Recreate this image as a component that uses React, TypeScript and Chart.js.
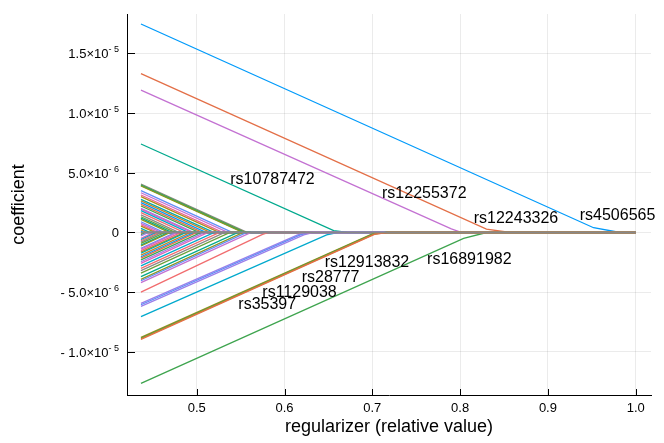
import { useEffect, useRef } from "react";
import { Chart, registerables } from "chart.js";

Chart.register(...registerables);

const FONT = "'Liberation Sans', Arial, Helvetica, sans-serif";

// x axis (regularizer, relative value)
const xStart = 0.4365;
const xEnd = 1.0;
const xMin = 0.4206;
const xMax = 1.0174;
const xTicks = [0.5, 0.6, 0.7, 0.8, 0.9, 1.0];

// y axis (coefficient)
const yMin = -13.61e-6;
const yMax = 18.3e-6;
const yTicks = [-1.0e-5, -5.0e-6, 0, 5.0e-6, 1.0e-5, 1.5e-5];

// major coefficient paths: value at xStart, bend point, point where it reaches 0
const majorStart = [17.46e-6, 13.3e-6, 11.93e-6, 7.41e-6, -12.63e-6, -7.05e-6, -5.93e-6, -6.05e-6, -6.18e-6, -5.0e-6, -8.78e-6, -8.84e-6, -8.9e-6, -8.96e-6];
const majorBendX = [0.952, 0.83, 0.79, 0.656, 0.804, 0.648, 0.615, 0.618, 0.622, 0.575, 0.7, 0.701, 0.702, 0.703];
const majorBendY = [0.4e-6, 0.29e-6, 0.3e-6, 0.15e-6, -0.49e-6, -0.2e-6, -0.2e-6, -0.2e-6, -0.2e-6, -0.15e-6, -0.12e-6, -0.12e-6, -0.13e-6, -0.13e-6];
const majorZeroX = [0.982, 0.857, 0.802, 0.672, 0.83, 0.66, 0.625, 0.628, 0.632, 0.582, 0.716, 0.716, 0.717, 0.718];
const majorColors = ["#009AFA", "#E36F47", "#C371D2", "#00A98D", "#3EA44E", "#00A9CD", "#9B7FE9", "#618DF6", "#9B7FE9", "#F16C6E", "#AC8E18", "#3EA44E", "#C68225", "#E36F47"];

// minor coefficient paths: value at xStart and point where it reaches 0
const minorStart = [
  4.06e-6, 4.0e-6, 3.95e-6, 3.9e-6, 3.5e-6, 3.33e-6, 3.14e-6, 3.0e-6, 2.78e-6, 2.65e-6,
  2.5e-6, 2.35e-6, 2.22e-6, 2.03e-6, 1.95e-6, 1.83e-6, 1.66e-6, 1.47e-6, 1.32e-6, 1.2e-6,
  1.1e-6, 0.9e-6, 0.77e-6, 0.65e-6, 0.54e-6, 0.35e-6, 0.21e-6, 0.1e-6,
  -0.07e-6, -0.18e-6, -0.29e-6, -0.49e-6, -0.6e-6, -0.69e-6, -0.8e-6, -0.91e-6, -1.05e-6, -1.13e-6,
  -1.32e-6, -1.4e-6, -1.52e-6, -1.65e-6, -1.74e-6, -1.9e-6, -2.03e-6, -2.15e-6, -2.3e-6, -2.45e-6,
  -2.58e-6, -2.8e-6, -3.0e-6, -3.2e-6, -3.4e-6, -3.7e-6, -3.92e-6, -4.04e-6, -4.2e-6,
];
const minorZeroX = [
  0.558, 0.556, 0.554, 0.553, 0.541, 0.536, 0.53, 0.526, 0.52, 0.516,
  0.511, 0.507, 0.503, 0.497, 0.495, 0.491, 0.486, 0.48, 0.476, 0.472,
  0.469, 0.463, 0.46, 0.456, 0.453, 0.447, 0.443, 0.44,
  0.439, 0.442, 0.445, 0.451, 0.454, 0.457, 0.46, 0.464, 0.468, 0.47,
  0.476, 0.478, 0.482, 0.486, 0.488, 0.493, 0.497, 0.5, 0.505, 0.509,
  0.513, 0.52, 0.526, 0.532, 0.538, 0.547, 0.553, 0.557, 0.562,
];
const palette = ["#888888", "#6D9F3A", "#00A98D", "#8E971D", "#618DF6", "#C371D2", "#ED5E93", "#AC8E18", "#00AAAE", "#C68225", "#009AFA", "#E36F47", "#3EA44E", "#9B7FE9", "#DC63BB", "#00A9CD", "#F16C6E"];
const zeroLineColor = "#888888";

// SNP annotations
const labelNames = ["rs10787472", "rs12255372", "rs12243326", "rs4506565", "rs16891982", "rs12913832", "rs28777", "rs1129038", "rs35397"];
const labelX = [0.5863, 0.7592, 0.8636, 0.9793, 0.8105, 0.6939, 0.6525, 0.6171, 0.5803];
const labelY = [4.4e-6, 3.22e-6, 1.13e-6, 1.41e-6, -2.24e-6, -2.53e-6, -3.81e-6, -5.04e-6, -6.07e-6];

const axesPlugin = {
  id: "gr-axes",
  afterDraw(chart: any) {
    const ctx = chart.ctx;
    const xs = chart.scales.x;
    const ys = chart.scales.y;
    const area = chart.chartArea;
    ctx.save();
    ctx.strokeStyle = "#000";
    ctx.lineWidth = 1;
    ys.ticks.forEach((t: any) => {
      const py = Math.round(ys.getPixelForValue(t.value)) + 0.5;
      ctx.beginPath();
      ctx.moveTo(area.left, py);
      ctx.lineTo(area.left + 8, py);
      ctx.stroke();
    });
    xs.ticks.forEach((t: any) => {
      const px = Math.round(xs.getPixelForValue(t.value)) + 0.5;
      ctx.beginPath();
      ctx.moveTo(px, area.bottom);
      ctx.lineTo(px, area.bottom - 6);
      ctx.stroke();
    });
    const right = area.left - 8;
    ctx.fillStyle = "#000";
    ctx.textAlign = "right";
    ctx.textBaseline = "alphabetic";
    ys.ticks.forEach((t: any) => {
      const v = t.value;
      const py = ys.getPixelForValue(v);
      if (Math.abs(v) < 1e-12) {
        ctx.font = `13px ${FONT}`;
        ctx.fillText("0", right, py + 5);
        return;
      }
      const exp = Math.floor(Math.log10(Math.abs(v)) + 1e-9);
      const mant = Math.abs(v) / Math.pow(10, exp);
      const base = (v < 0 ? "- " : "") + mant.toFixed(1) + "×10";
      const sup = (exp < 0 ? "- " : "") + Math.abs(exp);
      ctx.font = `9px ${FONT}`;
      const sw = ctx.measureText(sup).width;
      ctx.fillText(sup, right, py - 1);
      ctx.font = `13px ${FONT}`;
      ctx.fillText(base, right - sw, py + 5);
    });
    ctx.restore();
  },
};

const labelPlugin = {
  id: "snp-labels",
  afterDatasetsDraw(chart: any) {
    const ctx = chart.ctx;
    const xs = chart.scales.x;
    const ys = chart.scales.y;
    ctx.save();
    ctx.font = `16px ${FONT}`;
    ctx.fillStyle = "#000";
    ctx.textAlign = "center";
    ctx.textBaseline = "middle";
    labelNames.forEach((name, i) => {
      ctx.fillText(name, xs.getPixelForValue(labelX[i]), ys.getPixelForValue(labelY[i]));
    });
    ctx.restore();
  },
};

export default function App() {
  const ref = useRef<HTMLCanvasElement | null>(null);

  useEffect(() => {
    if (!ref.current) return;
    const paint: any[] = [];
    minorStart.forEach((s, i) => {
      paint.push({
        data: [
          { x: xStart, y: s },
          { x: minorZeroX[i], y: 0 },
          { x: xEnd, y: 0 },
        ],
        borderColor: palette[i % palette.length],
      });
    });
    majorStart.forEach((s, i) => {
      paint.push({
        data: [
          { x: xStart, y: s },
          { x: majorBendX[i], y: majorBendY[i] },
          { x: majorZeroX[i], y: 0 },
          { x: xEnd, y: 0 },
        ],
        borderColor: majorColors[i],
      });
    });
    paint.push({
      data: [
        { x: xStart, y: 0 },
        { x: xEnd, y: 0 },
      ],
      borderColor: zeroLineColor,
    });
    // Chart.js paints the first dataset on top, so reverse the painting order
    const datasets = paint.reverse().map((d) => ({
      ...d,
      borderWidth: 1.3,
      pointRadius: 0,
      fill: false,
      tension: 0,
    }));

    const chart = new Chart(ref.current, {
      type: "line",
      data: { datasets },
      plugins: [axesPlugin, labelPlugin],
      options: {
        animation: false,
        responsive: false,
        devicePixelRatio: 1,
        layout: { padding: { top: 14, right: 13, left: 0, bottom: 0 } },
        plugins: { legend: { display: false }, tooltip: { enabled: false } },
        font: { family: FONT },
        scales: {
          x: {
            type: "linear",
            min: xMin,
            max: xMax,
            afterBuildTicks: (scale: any) => {
              scale.ticks = xTicks.map((v) => ({ value: v }));
            },
            afterFit: (scale: any) => {
              scale.height = 48;
            },
            ticks: {
              color: "#000",
              font: { family: FONT, size: 13 },
              padding: 6,
              maxRotation: 0,
              autoSkip: false,
              callback: (v: any) => Number(v).toFixed(1),
            },
            grid: { color: "rgba(0,0,0,0.08)", drawTicks: false },
            border: { display: true, color: "#000", width: 1 },
            title: {
              display: true,
              text: "regularizer (relative value)",
              color: "#000",
              font: { family: FONT, size: 18 },
              padding: { top: 0, bottom: 5 },
            },
          },
          y: {
            type: "linear",
            min: yMin,
            max: yMax,
            afterBuildTicks: (scale: any) => {
              scale.ticks = yTicks.map((v) => ({ value: v }));
            },
            afterFit: (scale: any) => {
              scale.width = 127;
            },
            ticks: { display: false },
            grid: { color: "rgba(0,0,0,0.08)", drawTicks: false },
            border: { display: true, color: "#000", width: 1 },
            title: {
              display: true,
              text: "coefficient",
              color: "#000",
              font: { family: FONT, size: 18 },
              padding: { top: 8, bottom: 0 },
            },
          },
        },
      } as any,
    });
    return () => chart.destroy();
  }, []);

  return (
    <div style={{ position: "absolute", left: 0, top: 0, width: 664, height: 443, background: "#fff" }}>
      <canvas ref={ref} width={664} height={443} style={{ display: "block" }} />
    </div>
  );
}
